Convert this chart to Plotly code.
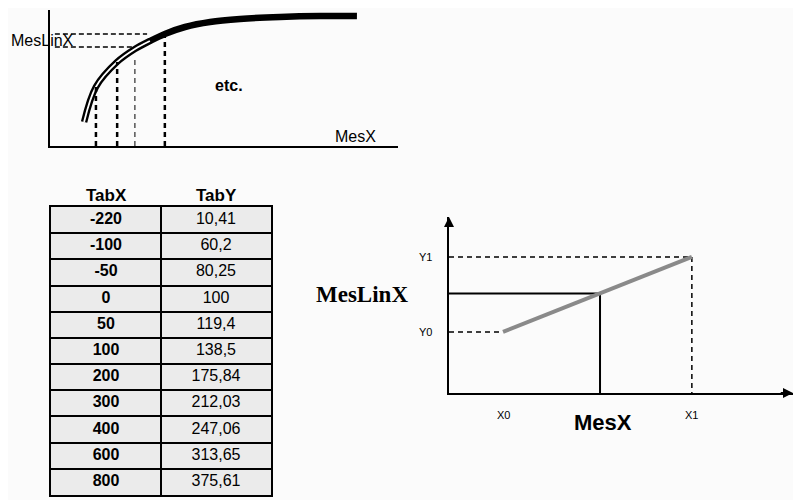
import plotly.graph_objects as go

# ---- data ----
# table values
tab_x = [-220, -100, -50, 0, 50, 100, 200, 300, 400, 600, 800]
tab_y = [10.41, 60.2, 80.25, 100, 119.4, 138.5, 175.84, 212.03, 247.06, 313.65, 375.61]
tab_header = ["TabX", "TabY"]

# schematic curve of the top-left sketch (arbitrary units 0-100)
curve_x = [9.8, 13.2, 19.3, 24.4, 28.7, 33.0, 38.8, 46.0, 54.6, 66.1, 77.6, 88.2]
curve_y = [17.6, 43.5, 61.8, 71.3, 77.2, 82.4, 87.5, 91.2, 93.4, 94.9, 95.6, 95.6]
hollow_n = 5  # first points drawn as a double (hollow) line
mes_x_marks = [13.2, 19.3, 24.4, 33.0]
mes_x_tops = [43.5, 61.8, 64.7, 82.4]
mes_lin_levels = [82.4, 72.8]
mes_lin_ends = [27.9, 24.4]

# linear interpolation sketch (arbitrary units 0-100)
x0, x1 = 15.7, 70.6
y0, y1 = 34.7, 77.3
mes_x = 43.9
mes_lin_x = y0 + (mes_x - x0) * (y1 - y0) / (x1 - x0)

W, H = 801, 500
OFF = 8  # page body margin of the html page


def px(x):
    return (x - OFF) / W


def py(y):
    return 1 - (y - OFF) / H


def fmt(v):
    return f"{v:g}".replace(".", ",")


fig = go.Figure()

# ---------- top-left sketch ----------
fig.add_trace(go.Scatter(x=curve_x, y=curve_y, mode="lines",
                         line=dict(color="black", width=6.5, shape="spline"),
                         xaxis="x", yaxis="y", hoverinfo="skip"))
fig.add_trace(go.Scatter(x=curve_x[:hollow_n], y=curve_y[:hollow_n], mode="lines",
                         line=dict(color="white", width=1.8, shape="spline"),
                         xaxis="x", yaxis="y", hoverinfo="skip"))
for i, (mx, top) in enumerate(zip(mes_x_marks, mes_x_tops)):
    fig.add_trace(go.Scatter(x=[mx, mx], y=[0, top], mode="lines",
                             line=dict(color="black", width=1 if i == 2 else 2.5, dash="5px,4px"),
                             xaxis="x", yaxis="y", hoverinfo="skip"))
for lvl, end in zip(mes_lin_levels, mes_lin_ends):
    fig.add_trace(go.Scatter(x=[1.4, end], y=[lvl, lvl], mode="lines",
                             line=dict(color="black", width=1.5, dash="5px,3px"),
                             xaxis="x", yaxis="y", hoverinfo="skip"))

# ---------- table (drawn on its own axes) ----------
rows = list(range(len(tab_x)))
fig.add_trace(go.Scatter(x=[0] * len(rows), y=rows, mode="text",
                         text=[f"<b>{v}</b>" for v in tab_x],
                         textfont=dict(family="Liberation Sans", size=16, color="black"),
                         xaxis="x3", yaxis="y3", hoverinfo="skip"))
fig.add_trace(go.Scatter(x=[1] * len(rows), y=rows, mode="text",
                         text=[fmt(v) for v in tab_y],
                         textfont=dict(family="Liberation Sans", size=16, color="black"),
                         xaxis="x3", yaxis="y3", hoverinfo="skip"))

# ---------- right sketch ----------
fig.add_trace(go.Scatter(x=[0, x1, x1], y=[y1, y1, 0], mode="lines",
                         line=dict(color="black", width=1.5, dash="5px,4px"),
                         xaxis="x2", yaxis="y2", hoverinfo="skip"))
fig.add_trace(go.Scatter(x=[0, x0], y=[y0, y0], mode="lines",
                         line=dict(color="black", width=1.5, dash="5px,4px"),
                         xaxis="x2", yaxis="y2", hoverinfo="skip"))
fig.add_trace(go.Scatter(x=[0, mes_x, mes_x], y=[mes_lin_x, mes_lin_x, 0], mode="lines",
                         line=dict(color="black", width=2),
                         xaxis="x2", yaxis="y2", hoverinfo="skip"))
fig.add_trace(go.Scatter(x=[x0, x1], y=[y0, y1], mode="lines",
                         line=dict(color="#8a8a8a", width=4),
                         xaxis="x2", yaxis="y2", hoverinfo="skip"))

axis_common = dict(showline=True, linecolor="black", linewidth=2, showgrid=False,
                   zeroline=False, showticklabels=False, ticks="", fixedrange=True)
table_axis = dict(showline=True, mirror=True, linecolor="black", linewidth=2,
                  showgrid=True, gridcolor="black", gridwidth=2, zeroline=False,
                  showticklabels=False, ticks="", fixedrange=True)

fig.update_layout(
    width=W, height=H,
    margin=dict(l=0, r=0, t=0, b=0),
    paper_bgcolor="#fbfbfb", plot_bgcolor="rgba(0,0,0,0)",
    showlegend=False,
    xaxis=dict(domain=[px(50), px(398)], range=[0, 100], anchor="y", **axis_common),
    yaxis=dict(domain=[py(146), py(10)], range=[0, 100], anchor="x", **axis_common),
    xaxis2=dict(domain=[px(449), px(793)], range=[0, 100], anchor="y2", **axis_common),
    yaxis2=dict(domain=[py(393), py(217)], range=[0, 100], anchor="x2", **axis_common),
    xaxis3=dict(domain=[px(51), px(271)], range=[-0.5, 1.5], anchor="y3",
                tickvals=[-0.5, 0.5, 1.5], **table_axis),
    yaxis3=dict(domain=[py(495), py(207)], range=[len(tab_x) - 0.5, -0.5], anchor="x3",
                tickvals=[r - 0.5 for r in range(len(tab_x) + 1)], **table_axis),
    shapes=[dict(type="rect", xref="x3 domain", yref="y3 domain", x0=0, x1=1, y0=0, y1=1,
                 fillcolor="#ebebeb", line=dict(width=0), layer="below")],
)

ann = []
# table header
for i, h in enumerate(tab_header):
    ann.append(dict(text=f"<b>{h}</b>", xref="x3", yref="y3 domain", x=i, y=1,
                    xanchor="center", yanchor="middle", yshift=12, showarrow=False,
                    font=dict(family="Liberation Sans", size=17, color="black")))
# top-left labels
ann.append(dict(text="MesLinX", xref="paper", yref="paper", x=0.001, y=py(40),
                xanchor="left", yanchor="middle", showarrow=False,
                font=dict(family="Liberation Sans", size=16, color="black")))
ann.append(dict(text="MesX", xref="paper", yref="paper", x=px(355), y=py(136),
                xanchor="center", yanchor="middle", showarrow=False,
                font=dict(family="Liberation Sans", size=16, color="black")))
ann.append(dict(text="<b>etc.</b>", xref="paper", yref="paper", x=px(229), y=py(85),
                xanchor="center", yanchor="middle", showarrow=False,
                font=dict(family="Liberation Sans", size=16, color="black")))
# right labels
ann.append(dict(text="<b>MesLinX</b>", xref="paper", yref="paper", x=px(362), y=py(294),
                xanchor="center", yanchor="middle", showarrow=False,
                font=dict(family="Liberation Serif", size=23, color="black")))
ann.append(dict(text="<b>MesX</b>", xref="paper", yref="paper", x=px(603), y=py(422),
                xanchor="center", yanchor="middle", showarrow=False,
                font=dict(family="Liberation Sans Narrow, Liberation Sans", size=22, color="black")))
for lbl, yv in (("Y1", y1), ("Y0", y0)):
    ann.append(dict(text=lbl, xref="x2", yref="y2", x=0, y=yv, xanchor="center", yanchor="middle",
                    xshift=-24, showarrow=False,
                    font=dict(family="Liberation Sans", size=11, color="black")))
for lbl, xv in (("X0", x0), ("X1", x1)):
    ann.append(dict(text=lbl, xref="x2", yref="y2", x=xv, y=0, xanchor="center", yanchor="middle",
                    yshift=-22, showarrow=False,
                    font=dict(family="Liberation Sans", size=11, color="black")))
# arrowheads on right axes
ann.append(dict(text="", xref="x2", yref="y2", axref="x2", ayref="y2", x=100, y=0, ax=96, ay=0,
                showarrow=True, arrowhead=2, arrowsize=1, arrowwidth=2, arrowcolor="black"))
ann.append(dict(text="", xref="x2", yref="y2", axref="x2", ayref="y2", x=0, y=100, ax=0, ay=94,
                showarrow=True, arrowhead=2, arrowsize=1, arrowwidth=2, arrowcolor="black"))
fig.update_layout(annotations=ann)

fig.write_html("out.html")
